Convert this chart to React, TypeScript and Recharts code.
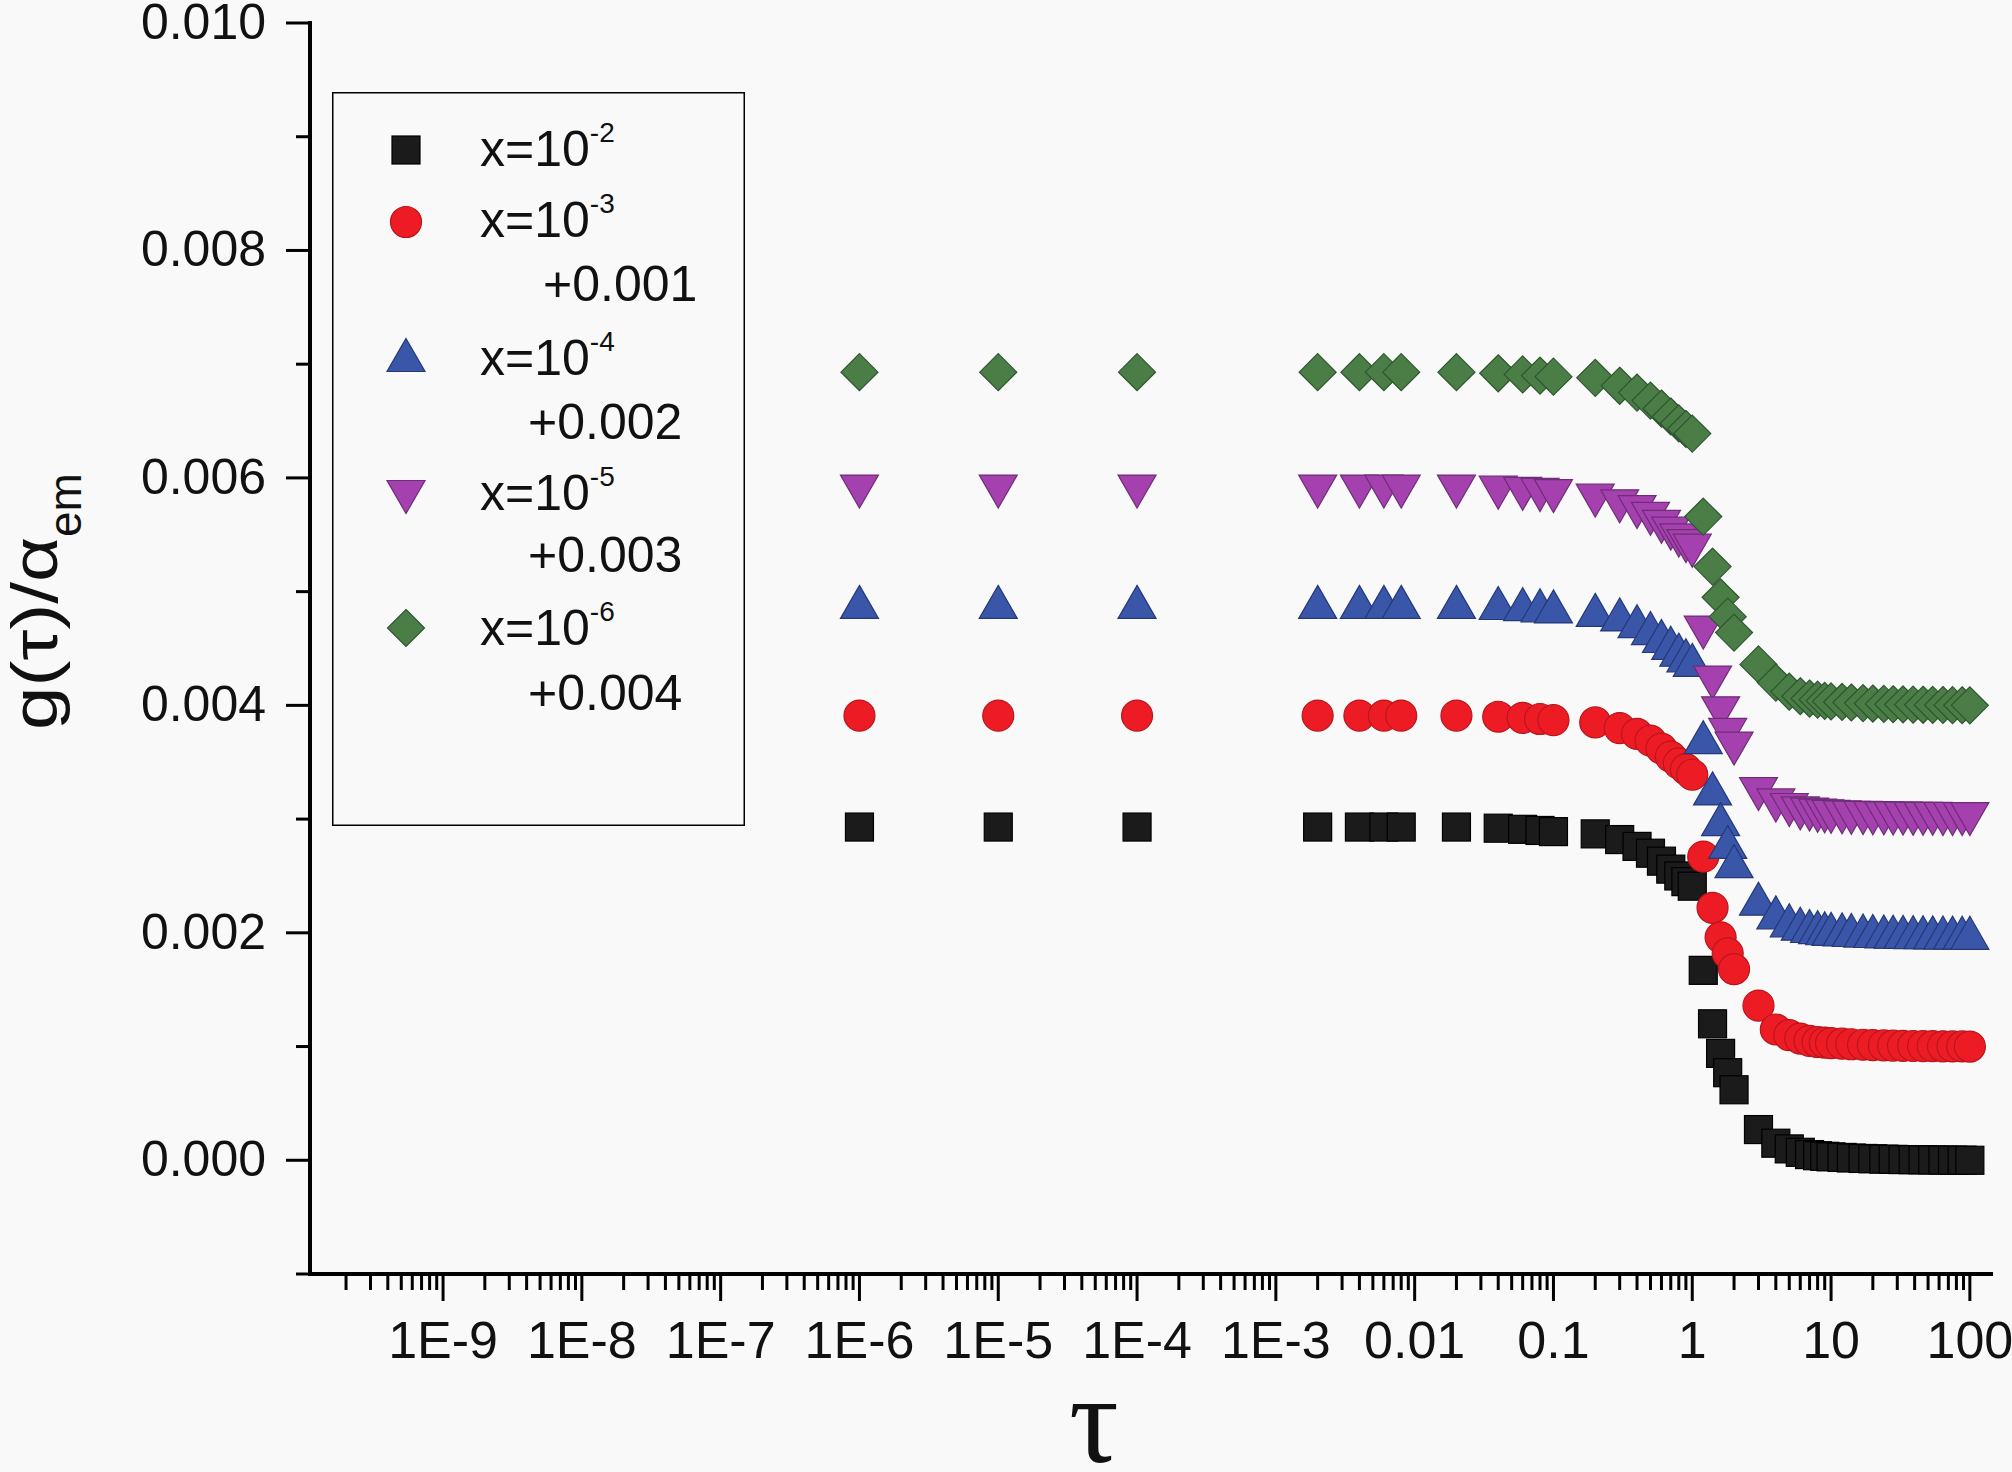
import React from 'react';
import { ScatterChart, Scatter, XAxis, YAxis, Legend, Label } from 'recharts';

// tau values shared by all five curves
const TAU = [
  1e-6, 1e-5, 1e-4, 0.002, 0.004, 0.006, 0.008, 0.02, 0.04, 0.06, 0.08, 0.1,
  0.2, 0.3, 0.4, 0.5, 0.6, 0.7, 0.8, 0.9, 1, 1.2, 1.4, 1.6, 1.8, 2,
  3, 4, 5, 6, 7, 8, 9, 10, 12, 14, 17, 20, 24, 28, 33, 39, 46, 54, 64, 75, 88, 100,
];

// g(tau)/alpha_em in units of 1e-3 (the +0.001 ... +0.004 shifts are already in)
const G_X1E2 = [
  2.93, 2.93, 2.93, 2.93, 2.93, 2.93, 2.93, 2.93, 2.92, 2.91, 2.90, 2.89,
  2.87, 2.82, 2.76, 2.70, 2.63, 2.56, 2.50, 2.45, 2.41, 1.67, 1.20, 0.94, 0.77, 0.62,
  0.27, 0.15, 0.10, 0.07, 0.05, 0.04, 0.035, 0.03, 0.025, 0.02, 0.016, 0.013, 0.01, 0.008,
  0.006, 0.005, 0.004, 0.003, 0.002, 0.001, 0.001, 0,
];
const G_X1E3 = [
  3.91, 3.91, 3.91, 3.91, 3.91, 3.91, 3.91, 3.91, 3.90, 3.89, 3.88, 3.87,
  3.85, 3.80, 3.75, 3.69, 3.62, 3.55, 3.49, 3.44, 3.39, 2.67, 2.22, 1.96, 1.82, 1.68,
  1.36, 1.15, 1.10, 1.07, 1.05, 1.04, 1.035, 1.03, 1.025, 1.02, 1.016, 1.013, 1.01, 1.008,
  1.006, 1.005, 1.004, 1.003, 1.002, 1.001, 1.001, 1.0,
];
const G_X1E4 = [
  4.91, 4.91, 4.91, 4.91, 4.91, 4.91, 4.91, 4.91, 4.90, 4.89, 4.88, 4.87,
  4.84, 4.80, 4.74, 4.68, 4.61, 4.55, 4.49, 4.44, 4.40, 3.72, 3.27, 3.00, 2.80, 2.63,
  2.30, 2.18, 2.11, 2.08, 2.06, 2.05, 2.04, 2.035, 2.03, 2.025, 2.02, 2.016, 2.012, 2.01,
  2.008, 2.006, 2.005, 2.004, 2.003, 2.002, 2.001, 2.0,
];
const G_X1E5 = [
  5.88, 5.88, 5.88, 5.88, 5.88, 5.88, 5.88, 5.88, 5.87, 5.86, 5.85, 5.84,
  5.80, 5.75, 5.70, 5.64, 5.57, 5.51, 5.45, 5.40, 5.36, 4.64, 4.20, 3.93, 3.74, 3.62,
  3.22, 3.12, 3.08, 3.05, 3.04, 3.03, 3.025, 3.02, 3.015, 3.012, 3.01, 3.008, 3.006, 3.005,
  3.004, 3.003, 3.002, 3.002, 3.001, 3.001, 3.0, 3.0,
];
const G_X1E6 = [
  6.93, 6.93, 6.93, 6.93, 6.93, 6.93, 6.93, 6.93, 6.92, 6.91, 6.90, 6.89,
  6.88, 6.81, 6.75, 6.68, 6.61, 6.54, 6.48, 6.43, 6.39, 5.66, 5.22, 4.95, 4.78, 4.64,
  4.36, 4.20, 4.12, 4.08, 4.06, 4.05, 4.04, 4.035, 4.03, 4.025, 4.02, 4.016, 4.013, 4.01,
  4.008, 4.006, 4.005, 4.004, 4.003, 4.002, 4.001, 4.0,
];

const X_MAJOR = [1e-9, 1e-8, 1e-7, 1e-6, 1e-5, 1e-4, 1e-3, 0.01, 0.1, 1, 10, 100];
const X_LABELS = ['1E-9', '1E-8', '1E-7', '1E-6', '1E-5', '1E-4', '1E-3', '0.01', '0.1', '1', '10', '100'];
const Y_MAJOR = [0, 2, 4, 6, 8, 10];
const Y_LABELS = ['0.000', '0.002', '0.004', '0.006', '0.008', '0.010'];
const Y_MINOR = [-1, 1, 3, 5, 7, 9];

const X_DOMAIN = [1.1e-10, 142];

// minor log ticks 2..9 in each decade that falls inside the axis
const X_MINOR: number[] = [];
for (let e = -10; e <= 1; e++) {
  for (let m = 2; m <= 9; m++) X_MINOR.push(m * Math.pow(10, e));
}
const X_TICKS = [...X_MINOR, ...X_MAJOR].sort((a, b) => a - b);
const Y_TICKS = [...Y_MINOR, ...Y_MAJOR].sort((a, b) => a - b);

const FONT = '"Liberation Sans", Arial, sans-serif';

const SERIES = [
  { key: 'x1e2', sup: '-2', shift: '', values: G_X1E2, kind: 'square', fill: '#1b1b1b', stroke: '#000000' },
  { key: 'x1e3', sup: '-3', shift: '+0.001', values: G_X1E3, kind: 'circle', fill: '#ed1c24', stroke: '#b8161c' },
  { key: 'x1e4', sup: '-4', shift: '+0.002', values: G_X1E4, kind: 'up', fill: '#3a56a8', stroke: '#25397a' },
  { key: 'x1e5', sup: '-5', shift: '+0.003', values: G_X1E5, kind: 'down', fill: '#a441ae', stroke: '#6f2c78' },
  { key: 'x1e6', sup: '-6', shift: '+0.004', values: G_X1E6, kind: 'diamond', fill: '#4a7e46', stroke: '#2f5530' },
];

const drawMarker = (kind: string, cx: number, cy: number, fill: string, stroke: string) => {
  const common = { fill, stroke, strokeWidth: 1.2 };
  switch (kind) {
    case 'square':
      return <rect x={cx - 14} y={cy - 14} width={28} height={28} {...common} />;
    case 'circle':
      return <circle cx={cx} cy={cy} r={15.5} {...common} />;
    case 'up':
      return <polygon points={`${cx},${cy - 16.5} ${cx + 19},${cy + 16.5} ${cx - 19},${cy + 16.5}`} {...common} />;
    case 'down':
      return <polygon points={`${cx - 19},${cy - 16.5} ${cx + 19},${cy - 16.5} ${cx},${cy + 16.5}`} {...common} />;
    default:
      return <polygon points={`${cx},${cy - 18.5} ${cx + 18.5},${cy} ${cx},${cy + 18.5} ${cx - 18.5},${cy}`} {...common} />;
  }
};

const XTick = (props: any) => {
  const { x, y, payload } = props;
  const idx = X_MAJOR.findIndex((v) => Math.abs(Math.log10(v) - Math.log10(payload.value)) < 1e-6);
  const major = idx >= 0;
  return (
    <g>
      <line x1={x} y1={y} x2={x} y2={y + (major ? 27 : 16)} stroke="#000" strokeWidth={3} />
      {major && (
        <text x={x} y={y + 84} textAnchor="middle" fontSize={52} fontFamily={FONT} fill="#111">
          {X_LABELS[idx]}
        </text>
      )}
    </g>
  );
};

const YTick = (props: any) => {
  const { x, y, payload } = props;
  const idx = Y_MAJOR.indexOf(payload.value);
  const major = idx >= 0;
  return (
    <g>
      <line x1={x - (major ? 24 : 14)} y1={y} x2={x} y2={y} stroke="#000" strokeWidth={3} />
      {major && (
        <text x={x - 44} y={y + 16} textAnchor="end" fontSize={50} fontFamily={FONT} fill="#111">
          {Y_LABELS[idx]}
        </text>
      )}
    </g>
  );
};

// legend row layout inside the box
const ROWS = [
  { sy: 58, ty: 74, px: 0, py: 0 },
  { sy: 130, ty: 145, px: 211, py: 209 },
  { sy: 263, ty: 283, px: 196, py: 347 },
  { sy: 405, ty: 418, px: 196, py: 480 },
  { sy: 536, ty: 553, px: 196, py: 618 },
];

const LegendBox = () => (
  <svg width={413} height={734} style={{ display: 'block' }}>
    <rect x={0.75} y={0.75} width={411.5} height={732.5} fill="none" stroke="#000" strokeWidth={1.5} />
    {SERIES.map((s, i) => (
      <g key={s.key}>
        {drawMarker(s.kind, 74, ROWS[i].sy, s.fill, s.stroke)}
        <text x={148} y={ROWS[i].ty} fontSize={50} fontFamily={FONT} fill="#111">
          x=10
          <tspan dy={-24} fontSize={28}>{s.sup}</tspan>
        </text>
        {s.shift && (
          <text x={ROWS[i].px} y={ROWS[i].py} fontSize={50} fontFamily={FONT} fill="#111">
            {s.shift}
          </text>
        )}
      </g>
    ))}
  </svg>
);

const YTitle = () => (
  <g>
    <text
      x={57}
      y={730}
      transform="rotate(-90 57 730)"
      fontSize={64}
      fontFamily={FONT}
      fill="#111"
      textLength={193}
      lengthAdjust="spacingAndGlyphs"
    >
      g(τ)/α
    </text>
    <text x={81} y={537} transform="rotate(-90 81 537)" fontSize={46} fontFamily={FONT} fill="#111">
      em
    </text>
  </g>
);

const XTitle = () => (
  <text x={1094} y={1462} textAnchor="middle" fontSize={124} fontFamily='"Liberation Serif", "Times New Roman", serif' fill="#111">
    τ
  </text>
);

const App: React.FC = () => {
  return (
    <div style={{ position: 'absolute', left: 0, top: 0, width: 2012, height: 1472, background: '#f9f9f9' }}>
      <ScatterChart width={2012} height={1472} margin={{ top: 23, right: 21, bottom: 0, left: 0 }}>
        <XAxis
          dataKey="tau"
          type="number"
          scale="log"
          domain={X_DOMAIN}
          allowDataOverflow
          ticks={X_TICKS}
          interval={0}
          height={198}
          tickSize={0}
          tickMargin={0}
          tickLine={false}
          tick={<XTick />}
          axisLine={{ stroke: '#000', strokeWidth: 4, strokeLinecap: 'square' }}
        >
          <Label content={() => <XTitle />} />
        </XAxis>
        <XAxis
          xAxisId="top"
          orientation="top"
          type="number"
          domain={[0, 1]}
          height={0}
          tick={false}
          tickLine={false}
          axisLine={{ stroke: '#000', strokeWidth: 4, strokeLinecap: 'square' }}
        />
        <YAxis
          dataKey="g"
          type="number"
          domain={[-1, 10]}
          allowDataOverflow
          ticks={Y_TICKS}
          interval={0}
          width={310}
          tickSize={0}
          tickMargin={0}
          tickLine={false}
          tick={<YTick />}
          axisLine={{ stroke: '#000', strokeWidth: 4, strokeLinecap: 'square' }}
        >
          <Label content={() => <YTitle />} />
        </YAxis>
        <YAxis
          yAxisId="right"
          orientation="right"
          type="number"
          domain={[0, 1]}
          width={0}
          tick={false}
          tickLine={false}
          axisLine={{ stroke: '#000', strokeWidth: 4, strokeLinecap: 'square' }}
        />
        <Legend
          layout="vertical"
          align="center"
          verticalAlign="middle"
          content={() => <LegendBox />}
          wrapperStyle={{ left: 332, top: 92, width: 413, height: 734 }}
        />
        {SERIES.map((s) => (
          <Scatter
            key={s.key}
            name={s.key}
            data={TAU.map((t, i) => ({ tau: t, g: s.values[i] }))}
            isAnimationActive={false}
            shape={(p: any) => drawMarker(s.kind, p.cx, p.cy, s.fill, s.stroke)}
          />
        ))}
      </ScatterChart>
    </div>
  );
};

export default App;
